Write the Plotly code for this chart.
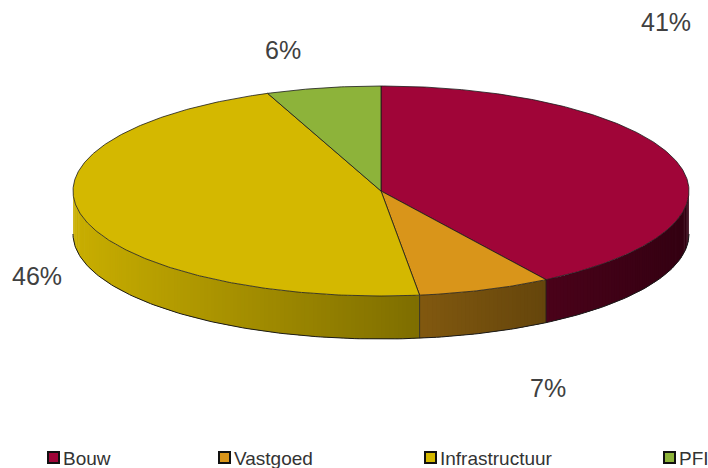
import numpy as np
import plotly.graph_objects as go

# ---- data ----
categories = ["Bouw", "Vastgoed", "Infrastructuur", "PFI"]
values = [41, 7, 46, 6]
pct_labels = [f"{v}%" for v in values]

# ---- styles / layout ----
colors = ["#A00538", "#D9951A", "#D4B800", "#8DB33A"]
label_pos = [(666, 22), (548, 388), (37, 276), (283, 50)]  # label anchor positions (px)
legend_x = [48, 219, 425, 664]  # legend square left edges (px)
legend_y = 458
W, H = 708, 468
cx, cy, rx, ry, depth = 381, 191, 308, 105, 43
FONT = "Liberation Sans, Arial, sans-serif"


def hex2rgb(h):
    h = h.lstrip("#")
    return tuple(int(h[i:i + 2], 16) for i in (0, 2, 4))


def shade(hexcol, f):
    r, g, b = hex2rgb(hexcol)
    return f"rgb({int(r*f)},{int(g*f)},{int(b*f)})"


def pt(theta_deg, dy=0.0):
    t = np.radians(theta_deg)
    return cx + rx * np.sin(t), cy - ry * np.cos(t) + dy


total = sum(values)
angles = 360 * np.cumsum([0] + values) / total

fig = go.Figure()

# side (front rim) strips, shaded left->right; each strip overlaps the next to hide seams
for i, col in enumerate(colors):
    a0, a1 = max(angles[i], 90), min(angles[i + 1], 270)
    if a0 >= a1:
        continue
    n = int(np.ceil((a1 - a0) / 0.8))
    ths = np.linspace(a0, a1, n + 1)
    for k in range(n):
        t_end = min(ths[k + 1] + 0.5, a1)
        arc = np.linspace(ths[k], t_end, 4)
        top = [pt(a) for a in arc]
        bot = [pt(a, depth) for a in arc[::-1]]
        xs = [p[0] for p in top] + [p[0] for p in bot] + [top[0][0]]
        ys = [p[1] for p in top] + [p[1] for p in bot] + [top[0][1]]
        xm = (top[0][0] + top[-1][0]) / 2
        t = (xm - (cx - rx)) / (2 * rx)
        f = 0.95 - 0.63 * t
        c = shade(col, f)
        fig.add_trace(go.Scatter(
            x=xs, y=ys, mode="lines", fill="toself", fillcolor=c,
            line=dict(color=c, width=0), hoverinfo="skip", showlegend=False))

# side outlines: bottom curve and slice boundaries
ths = np.linspace(90, 270, 200)
bx, by = zip(*[pt(a, depth) for a in ths])
fig.add_trace(go.Scatter(x=bx, y=by, mode="lines", line=dict(color="#1a1a1a", width=1),
                         hoverinfo="skip", showlegend=False))
for a in angles[1:-1]:
    if 90 < a < 270:
        x0, y0 = pt(a)
        fig.add_trace(go.Scatter(x=[x0, x0], y=[y0, y0 + depth], mode="lines",
                                 line=dict(color="#1a1a1a", width=0.8),
                                 hoverinfo="skip", showlegend=False))

# top face slices
for i, col in enumerate(colors):
    th = np.linspace(angles[i], angles[i + 1], max(int(angles[i + 1] - angles[i]) * 2, 4))
    xs, ys = zip(*[pt(a) for a in th])
    fig.add_trace(go.Scatter(
        x=[cx, *xs, cx], y=[cy, *ys, cy], mode="lines", fill="toself", fillcolor=col,
        line=dict(color="#1a1a1a", width=0.8), hoverinfo="skip", showlegend=False,
        name=categories[i]))

annotations = []
for lab, (lx, ly) in zip(pct_labels, label_pos):
    annotations.append(dict(x=lx, y=ly, xref="x", yref="y", text=lab, showarrow=False,
                            font=dict(family=FONT, size=25, color="#404040"),
                            xanchor="center", yanchor="middle"))

shapes = []
for cat, col, lx in zip(categories, colors, legend_x):
    shapes.append(dict(type="rect", xref="x", yref="y", x0=lx, x1=lx + 11,
                       y0=legend_y - 6, y1=legend_y + 5, fillcolor=col,
                       line=dict(color="#111", width=2)))
    annotations.append(dict(x=lx + 13, y=legend_y, xref="x", yref="y", text=cat,
                            showarrow=False, xanchor="left", yanchor="middle",
                            font=dict(family=FONT, size=19, color="#333333")))

fig.update_layout(
    width=W, height=H, margin=dict(l=0, r=0, t=0, b=0),
    paper_bgcolor="white", plot_bgcolor="white",
    xaxis=dict(range=[0, W], visible=False, fixedrange=True),
    yaxis=dict(range=[H, 0], visible=False, fixedrange=True),
    annotations=annotations, shapes=shapes, showlegend=False,
)

fig.write_html("out.html")
